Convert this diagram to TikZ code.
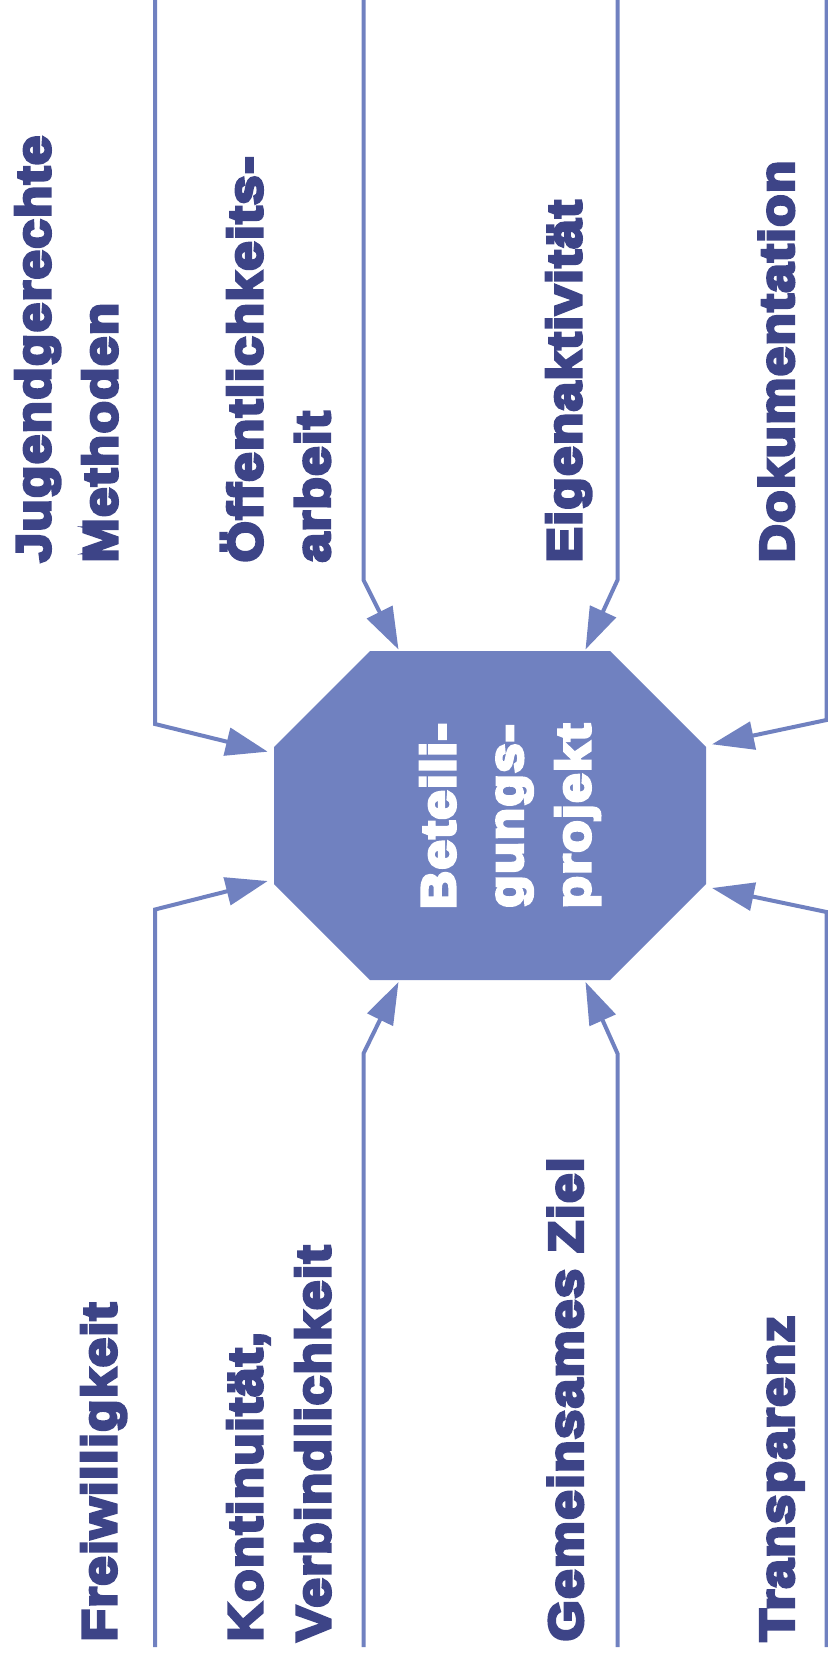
\documentclass[tikz,border=0pt]{standalone}
\usepackage{fontspec}
\usetikzlibrary{arrows.meta}
\newfontfamily\heavy{Liberation Sans Bold}[FakeBold=6.5,FakeStretch=1.1,LetterSpace=3]
\definecolor{navy}{RGB}{61,68,135}
\definecolor{octo}{RGB}{112,129,192}
\begin{document}
\begin{tikzpicture}[x=1pt,y=-1pt,
  lbl/.style={rotate=90,anchor=base west,inner sep=0pt,text=navy,font=\heavy\fontsize{48}{67.6}\selectfont},
  corelbl/.style={rotate=90,anchor=base,inner sep=0pt,text=white,font=\heavy\fontsize{48}{67.6}\selectfont},
  conn/.style={draw=octo,line width=4pt,-{Triangle[length=42pt,width=28pt]}}]
\useasboundingbox (0,0) rectangle (827,1662);
% central octagon
\fill[octo] (370,651) -- (610,651) -- (706,747) -- (706,884) -- (610,980) -- (370,980) -- (274,884) -- (274,747) -- cycle;
\coordinate (core) at (490,815.5);
\node[corelbl] (core1) at (455,816) {Beteili-};
\node[corelbl] (core2) at (522.5,816) {gungs-};
\node[corelbl] (core3) at (590,816) {projekt};
% labels top
\node[lbl] (jug) at (50,562.5) {Jugendgerechte};
\node[lbl] (met) at (117,562.5) {Methoden};
\node[lbl] (oef) at (262,562.5) {Öffentlichkeits-};
\node[lbl] (arb) at (329.6,562.5) {arbeit};
\node[lbl] (eig) at (581,562.5) {Eigenaktivität};
\node[lbl] (dok) at (793.5,562.5) {Dokumentation};
% labels bottom
\node[lbl] (fre) at (116,1641.5) {Freiwilligkeit};
\node[lbl] (kon) at (262,1641.5) {Kontinuität,};
\node[lbl] (ver) at (330,1641.5) {Verbindlichkeit};
\node[lbl] (gem) at (582.5,1641.5) {Gemeinsames Ziel};
\node[lbl] (tra) at (793.5,1641.5) {Transparenz};
% connector coordinates
\coordinate (a1s) at (155,0);      \coordinate (a1b) at (155,724);     \coordinate (a1t) at (267.7,751.7);
\coordinate (a2s) at (155,1647);   \coordinate (a2b) at (155,909.5);   \coordinate (a2t) at (267.7,881);
\coordinate (b1s) at (363.5,0);    \coordinate (b1b) at (363.5,580);   \coordinate (b1t) at (398.5,649.5);
\coordinate (b2s) at (363.5,1647); \coordinate (b2b) at (363.5,1053.5);\coordinate (b2t) at (398.5,982);
\coordinate (c1s) at (617.5,0);    \coordinate (c1b) at (617.5,580);   \coordinate (c1t) at (585.5,649.5);
\coordinate (c2s) at (617.5,1647); \coordinate (c2b) at (617.5,1053.5);\coordinate (c2t) at (585.5,982);
\coordinate (d1s) at (826.5,0);    \coordinate (d1b) at (826.5,720);   \coordinate (d1t) at (712,744.3);
\coordinate (d2s) at (826.5,1647); \coordinate (d2b) at (826.5,912);   \coordinate (d2t) at (712,888);
\foreach \p in {a1,a2,b1,b2,c1,c2,d1,d2}{
  \draw[conn] (\p s) -- (\p b) -- (\p t);
}
\end{tikzpicture}
\end{document}
